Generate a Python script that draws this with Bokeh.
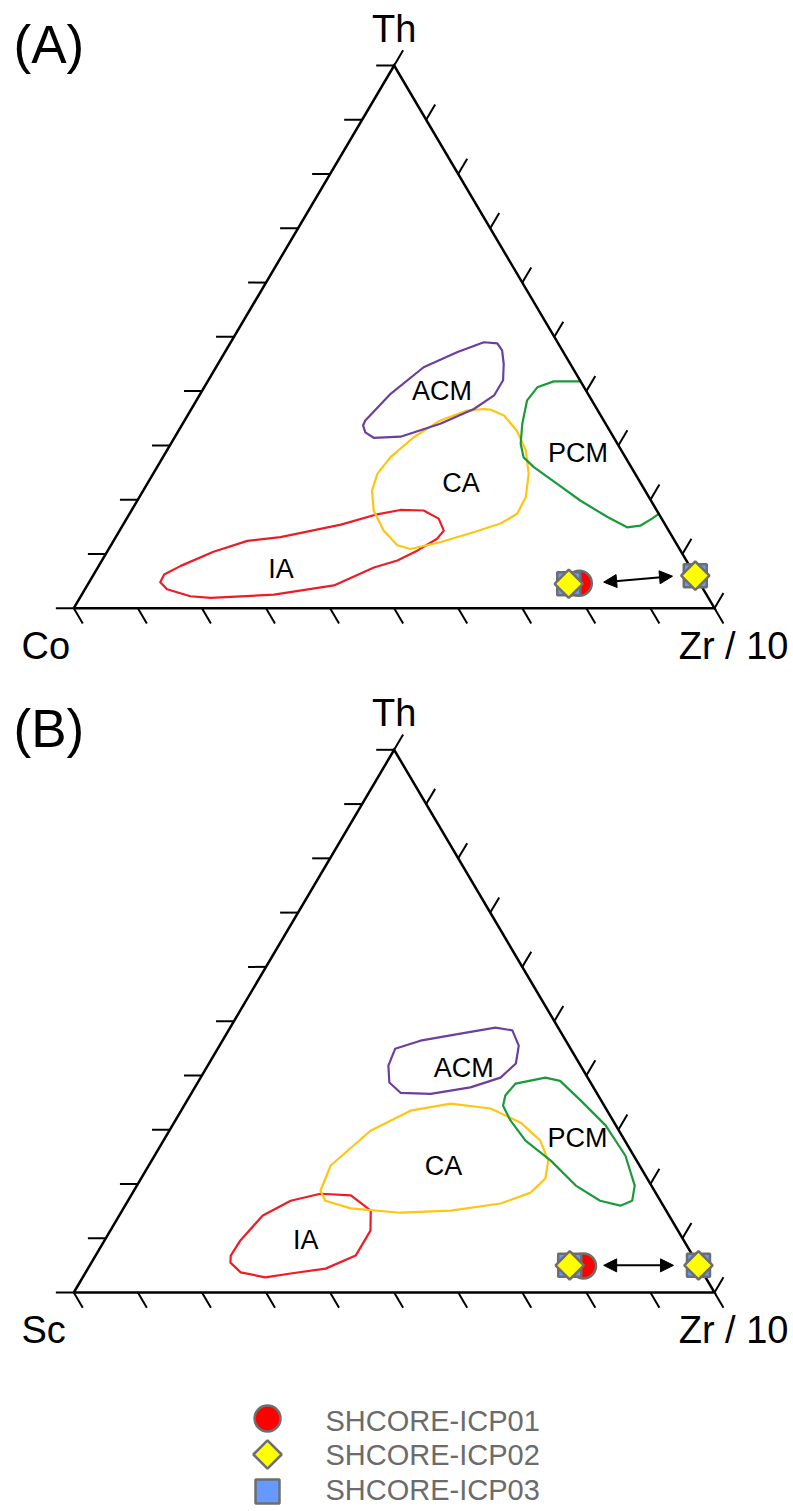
import numpy as np
from bokeh.plotting import figure
from bokeh.models import Arrow, NormalHead, Range1d
from bokeh.core.properties import value
from bokeh.embed import file_html
from bokeh.resources import INLINE

# ---------------- data: ternary compositions in percent ----------------
# Panel A: Th - Co - Zr/10   (Co = 100 - Th - Zr)
IA_A_TH = [4.8, 6.2, 7.8, 10.4, 12.4, 13.1, 15.4, 17.3, 18.1, 18.0, 16.5, 14.3, 12.8, 10.6, 8.8, 7.5, 4.2, 2.5, 1.9, 2.2, 3.5]
IA_A_ZR = [11.1, 11.0, 12.8, 16.6, 20.9, 25.7, 34.0, 38.7, 41.9, 45.6, 48.7, 50.6, 50.3, 48.3, 46.1, 43.1, 38.5, 30.0, 20.4, 17.1, 12.8]
CA_A_TH = [36.7, 36.4, 34.6, 31.5, 27.8, 24.8, 21.7, 18.0, 14.3, 11.6, 10.9, 12.2, 14.0, 15.6, 17.4, 20.5, 24.8, 29.1, 32.7, 35.5, 36.6]
CA_A_ZR = [45.6, 43.2, 39.9, 37.3, 35.5, 35.0, 35.7, 37.8, 41.2, 44.7, 47.1, 51.2, 55.4, 58.8, 60.5, 60.3, 58.6, 56.0, 52.8, 49.4, 46.7]
ACM_A_TH = [34.6, 39.5, 44.4, 47.2, 49.0, 48.8, 47.5, 45.0, 42.0, 39.2, 36.7, 34.0, 31.6, 31.4, 32.4, 33.7]
ACM_A_ZR = [28.2, 29.7, 32.4, 36.3, 39.5, 41.7, 43.1, 44.6, 46.0, 46.0, 44.1, 40.2, 35.2, 31.1, 29.3, 28.3]
PCM_A_TH = [41.8, 41.8, 40.7, 38.3, 34.0, 30.3, 27.8, 26.0, 22.9, 19.8, 16.8, 14.9, 15.2, 16.5, 17.4]
PCM_A_ZR = [58.2, 54.0, 52.0, 51.6, 53.0, 54.6, 56.3, 58.8, 64.0, 69.2, 74.9, 78.9, 80.8, 82.0, 82.6]

# Panel B: Th - Sc - Zr/10   (Sc = 100 - Th - Zr)
IA_B_TH = [6.8, 9.6, 14.2, 16.9, 18.2, 17.9, 15.1, 11.4, 6.8, 4.4, 3.5, 2.8, 3.7, 5.5]
IA_B_ZR = [21.1, 21.2, 22.4, 25.4, 29.4, 34.3, 38.8, 40.6, 40.6, 37.1, 32.1, 28.5, 24.2, 21.7]
CA_B_TH = [18.8, 23.4, 29.8, 33.5, 34.8, 33.9, 31.3, 28.0, 24.3, 21.0, 18.4, 16.4, 15.1, 14.7, 15.5, 16.9]
CA_B_ZR = [29.1, 28.4, 31.4, 35.8, 41.4, 48.1, 54.1, 58.8, 61.9, 63.1, 62.1, 58.4, 51.3, 43.6, 35.5, 30.8]
ACM_B_TH = [41.8, 44.9, 46.4, 47.7, 48.8, 48.3, 45.5, 42.2, 39.6, 37.8, 36.6, 36.8, 38.7]
ACM_B_ZR = [28.2, 27.7, 30.9, 36.5, 41.4, 44.3, 46.7, 47.9, 46.8, 43.0, 37.4, 32.6, 29.9]
PCM_B_TH = [36.3, 38.5, 39.6, 39.0, 35.4, 30.8, 25.2, 19.7, 16.9, 16.0, 16.9, 19.7, 24.3, 28.0, 31.7, 34.4]
PCM_B_ZR = [49.2, 49.7, 53.8, 56.4, 61.4, 67.6, 73.5, 77.7, 78.7, 77.3, 73.7, 68.5, 62.3, 56.5, 52.3, 49.8]

FIELD_NAMES = ["ACM", "CA", "PCM", "IA"]
LABEL_A_TH = [40.1, 23.1, 28.6, 7.3]
LABEL_A_ZR = [37.4, 48.9, 64.4, 28.7]
LABEL_B_TH = [41.3, 23.4, 28.4, 9.6]
LABEL_B_ZR = [40.2, 46.0, 64.4, 31.4]

# samples (Th, Zr/10)
SAMPLES = ["SHCORE-ICP01", "SHCORE-ICP02", "SHCORE-ICP03"]
A_ICP01_TH, A_ICP01_ZR = [4.6], [76.6]
A_ICP02_TH, A_ICP02_ZR = [4.5, 6.0], [75.0, 94.0]
A_ICP03_TH, A_ICP03_ZR = [4.5, 6.0], [75.0, 94.0]
B_ICP01_TH, B_ICP01_ZR = [4.9], [77.1]
B_ICP02_TH, B_ICP02_ZR = [5.0, 5.0], [74.9, 95.0]
B_ICP03_TH, B_ICP03_ZR = [5.0, 5.0], [74.9, 95.0]
# arrow (start Th, start Zr, end Th, end Zr)
ARROW_A = [4.8, 80.3, 5.9, 90.5]
ARROW_B = [5.0, 80.2, 5.0, 91.1]

APEX = "Th"
LEFT_A, LEFT_B, RIGHT = "Co", "Sc", "Zr / 10"

# ---------------- layout (picture pixels) ----------------
W_CANVAS, H_CANVAS = 793, 1511
X0_PX, SIDE_PX = 73.3, 640.7
BASE_A_PX, HEIGHT_PX = 607.7, 542.7
BASE_B_PX = 1292.0
OFF_B = (BASE_A_PX - BASE_B_PX) / HEIGHT_PX


def px(x):
    return (x - X0_PX) / SIDE_PX


def py(y):
    return (BASE_A_PX - y) / HEIGHT_PX


p = figure(width=W_CANVAS, height=H_CANVAS, x_range=Range1d(px(0), px(W_CANVAS)),
           y_range=Range1d(py(H_CANVAS), py(0)), output_backend="svg", toolbar_location=None,
           x_axis_location=None, y_axis_location=None, min_border=0)
p.grid.visible = False
p.outline_line_color = None
p.background_fill_color = "white"

FONT = value("Liberation Sans")


def tern(th, zr, off):
    th = np.asarray(th, dtype=float) / 100.0
    zr = np.asarray(zr, dtype=float) / 100.0
    return zr + th / 2.0, th + off


def field(th, zr, off, color, closed=True):
    x, y = tern(th, zr, off)
    if closed:
        x = np.append(x, x[0])
        y = np.append(y, y[0])
    p.line(x, y, line_color=color, line_width=2.2, line_join="round", line_cap="round")


RED, YEL, PUR, GRN = "#ee1c24", "#ffc513", "#6b3fa0", "#1a9a38"
MK_LINE = "#6e6e6e"
TICK_L = 0.028

for panel, off in (("A", 0.0), ("B", OFF_B)):
    if panel == "A":
        field(IA_A_TH, IA_A_ZR, off, RED)
        field(CA_A_TH, CA_A_ZR, off, YEL)
        field(ACM_A_TH, ACM_A_ZR, off, PUR)
        field(PCM_A_TH, PCM_A_ZR, off, GRN, closed=False)
        lth, lzr = LABEL_A_TH, LABEL_A_ZR
        left = LEFT_A
        arrow = ARROW_A
        pts = [(A_ICP01_TH, A_ICP01_ZR), (A_ICP02_TH, A_ICP02_ZR), (A_ICP03_TH, A_ICP03_ZR)]
    else:
        field(IA_B_TH, IA_B_ZR, off, RED)
        field(CA_B_TH, CA_B_ZR, off, YEL)
        field(ACM_B_TH, ACM_B_ZR, off, PUR)
        field(PCM_B_TH, PCM_B_ZR, off, GRN)
        lth, lzr = LABEL_B_TH, LABEL_B_ZR
        left = LEFT_B
        arrow = ARROW_B
        pts = [(B_ICP01_TH, B_ICP01_ZR), (B_ICP02_TH, B_ICP02_ZR), (B_ICP03_TH, B_ICP03_ZR)]

    # triangle
    p.line([0, 1, 0.5, 0], [off, off, 1 + off, off], line_color="black", line_width=2.5,
           line_join="miter")
    # ticks every 10 %
    f = np.linspace(0, 1, 11)
    xs, ys = [], []
    for v in f:
        xs.append([v, v + TICK_L / 2]); ys.append([off, off - TICK_L])              # base
        xs.append([v / 2, v / 2 - TICK_L]); ys.append([v + off, v + off])           # left side
        xs.append([1 - v / 2, 1 - v / 2 + TICK_L / 2]); ys.append([v + off, v + off + TICK_L])  # right side
    p.multi_line(xs, ys, line_color="black", line_width=2)

    # field labels
    lx, ly = tern(lth, lzr, off)
    p.text(lx, ly, text=FIELD_NAMES, text_font=FONT, text_font_size="27px",
           text_align="center", text_baseline="middle", text_color="black")

    # arrow
    ax0, ay0 = tern([arrow[0]], [arrow[1]], off)
    ax1, ay1 = tern([arrow[2]], [arrow[3]], off)
    p.add_layout(Arrow(x_start=float(ax0[0]), y_start=float(ay0[0]),
                       x_end=float(ax1[0]), y_end=float(ay1[0]), line_width=2,
                       line_color="black",
                       start=NormalHead(size=13, fill_color="black", line_color="black"),
                       end=NormalHead(size=13, fill_color="black", line_color="black")))

    # samples
    (t1, z1), (t2, z2), (t3, z3) = pts
    x1, y1 = tern(t1, z1, off)
    x2, y2 = tern(t2, z2, off)
    x3, y3 = tern(t3, z3, off)
    p.scatter(x1, y1, marker="circle", size=25, fill_color="#ff0000", line_color=MK_LINE, line_width=2.5)
    p.scatter(x3, y3, marker="square", size=23, fill_color="#6699ff", line_color=MK_LINE, line_width=2.5)
    p.scatter(x2, y2, marker="square", angle=np.pi / 4, size=20, fill_color="#ffff00",
              line_color=MK_LINE, line_width=2.5)

    # corner labels and panel letter
    dy = 0.0 if panel == "A" else (BASE_B_PX - BASE_A_PX)
    p.text([px(393.6)], [py(28 + dy)], text=[APEX], text_font=FONT, text_font_size="38px",
           text_align="center", text_baseline="middle", text_color="black")
    p.text([px(21)], [py(645 + dy)], text=[left], text_font=FONT, text_font_size="38px",
           text_align="left", text_baseline="middle", text_color="black")
    p.text([px(788)], [py(645 + dy)], text=[RIGHT], text_font=FONT, text_font_size="38px",
           text_align="right", text_baseline="middle", text_color="black")
    p.text([px(13)], [py(44 + dy)], text=["(%s)" % panel], text_font=FONT, text_font_size="53px",
           text_align="left", text_baseline="middle", text_color="black")

# legend
LEG_Y = [1418, 1454, 1491]
p.scatter([px(267)], [py(LEG_Y[0])], marker="circle", size=26, fill_color="#ff0000",
          line_color=MK_LINE, line_width=2.5)
p.scatter([px(267)], [py(LEG_Y[1])], marker="square", angle=np.pi / 4, size=20,
          fill_color="#ffff00", line_color=MK_LINE, line_width=2.5)
p.scatter([px(267)], [py(LEG_Y[2])], marker="square", size=24, fill_color="#6699ff",
          line_color=MK_LINE, line_width=2.5)
p.text([px(325)] * 3, [py(1420), py(1454.5), py(1489)], text=SAMPLES, text_font=FONT,
       text_font_size="29px", text_align="left", text_baseline="middle", text_color="#6b6b6b")

open("out.html", "w").write(file_html(p, INLINE))
